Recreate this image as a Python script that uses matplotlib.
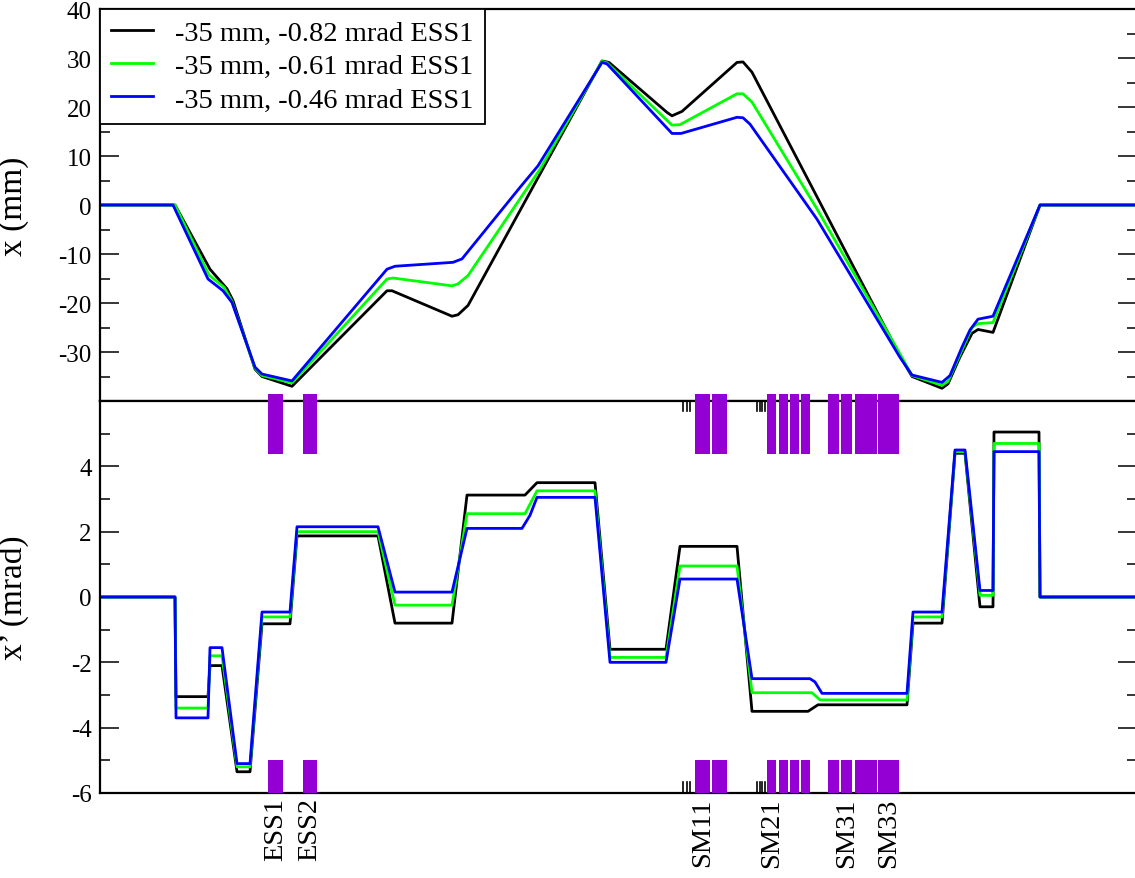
import matplotlib
matplotlib.use("Agg")
import matplotlib.pyplot as plt
from matplotlib.patches import Rectangle
from matplotlib.ticker import MultipleLocator

plt.rcParams['font.family'] = ['Liberation Serif', 'DejaVu Serif']

# Beam-line position s (m) and orbit for three ESS1 kick settings
labels = ["-35 mm, -0.82 mrad ESS1", "-35 mm, -0.61 mrad ESS1", "-35 mm, -0.46 mrad ESS1"]
colors = ["black", "#00ff00", "#0000ff"]

# --- horizontal position x (mm) ---
s_x_black = [0, 7.5, 11.0, 12.7, 13.3, 15.5, 16.2, 19.2, 28.7, 29.2, 35.2, 35.8, 36.8,
             50.2, 50.9, 56.7, 57.2, 58.2, 63.7, 64.3, 65.2, 80.0, 81.2, 84.2, 84.8,
             86.0, 87.2, 87.8, 89.3, 94.0, 103.7]
x_black = [0, 0, -13.1, -17.1, -19.5, -33.5, -35.0, -37.0, -17.5, -17.5, -22.7, -22.4, -20.5,
           29.4, 29.1, 18.9, 18.2, 19.1, 29.1, 29.2, 27.1, -30.8, -35.0, -37.4, -36.5,
           -31.0, -26.2, -25.4, -26.0, 0, 0]

s_x_green = [0, 7.5, 10.9, 12.4, 13.2, 15.5, 16.2, 19.2, 28.7, 29.3, 35.2, 35.8, 36.8,
             44.0, 50.2, 50.7, 57.2, 58.0, 63.7, 64.3, 65.2, 71.7, 80.0, 81.2, 84.2,
             84.8, 86.0, 87.2, 87.8, 89.3, 94.0, 103.7]
x_green = [0, 0, -14.3, -16.8, -19.7, -33.3, -34.8, -36.3, -15.1, -14.9, -16.5, -16.1, -14.4,
           7.3, 29.3, 29.0, 16.3, 16.4, 22.7, 22.7, 21.0, -0.8, -30.4, -34.8, -36.8,
           -36.0, -30.5, -25.0, -24.2, -24.0, 0, 0]

s_x_blue = [0, 7.3, 10.8, 12.3, 13.2, 15.5, 16.2, 19.2, 28.7, 29.5, 35.3, 36.2, 42.0,
            43.8, 50.2, 50.7, 57.2, 58.1, 63.7, 64.3, 65.0, 71.7, 80.0, 81.2, 84.2,
            85.0, 86.2, 87.0, 87.8, 89.3, 94.0, 103.7]
x_blue = [0, 0, -15.1, -17.5, -19.9, -33.1, -34.5, -35.9, -13.1, -12.5, -11.7, -11.0, 3.6,
          8.0, 29.1, 28.8, 14.6, 14.6, 17.9, 17.8, 16.5, -2.9, -31.1, -34.7, -36.2,
          -34.8, -29.0, -25.5, -23.3, -22.7, 0, 0]

# --- horizontal angle x' (mrad) ---
s_xp_black = [0, 7.5, 7.6, 10.8, 11.0, 12.2, 13.7, 15.0, 16.2, 19.0, 19.7, 27.8, 29.5,
              35.2, 36.7, 42.5, 43.7, 49.5, 51.0, 56.6, 58.0, 63.7, 65.2, 70.8, 71.8,
              80.7, 81.3, 84.2, 85.5, 86.5, 88.0, 89.3, 89.4, 93.9, 94.0, 103.7]
xp_black = [0, 0, -3.05, -3.05, -2.1, -2.1, -5.35, -5.35, -0.82, -0.82, 1.87, 1.87, -0.8,
            -0.8, 3.12, 3.12, 3.5, 3.5, -1.6, -1.6, 1.55, 1.55, -3.5, -3.5, -3.3,
            -3.3, -0.8, -0.8, 4.4, 4.4, -0.3, -0.3, 5.05, 5.05, 0, 0]

s_xp_green = [0, 7.5, 7.6, 10.8, 11.0, 12.2, 13.7, 15.0, 16.2, 19.0, 19.7, 27.8, 29.5,
              35.2, 36.7, 42.5, 43.7, 49.5, 51.0, 56.6, 58.0, 63.7, 65.2, 71.2, 72.0,
              80.7, 81.3, 84.2, 85.5, 86.5, 88.0, 89.3, 89.4, 93.9, 94.0, 103.7]
xp_green = [0, 0, -3.4, -3.4, -1.8, -1.8, -5.2, -5.2, -0.61, -0.61, 2.0, 2.0, -0.25,
            -0.25, 2.55, 2.55, 3.25, 3.25, -1.85, -1.85, 0.95, 0.95, -2.93, -2.93, -3.15,
            -3.15, -0.61, -0.61, 4.45, 4.45, 0.05, 0.05, 4.7, 4.7, 0, 0]

s_xp_blue = [0, 7.5, 7.6, 10.8, 11.0, 12.2, 13.7, 15.0, 16.2, 19.0, 19.7, 27.8, 29.5,
             35.2, 36.7, 42.2, 43.0, 43.7, 49.5, 51.0, 56.6, 58.0, 63.7, 65.2, 71.0,
             71.5, 72.2, 80.7, 81.3, 84.2, 85.5, 86.5, 88.0, 89.3, 89.4, 93.9, 94.0, 103.7]
xp_blue = [0, 0, -3.7, -3.7, -1.55, -1.55, -5.1, -5.1, -0.46, -0.46, 2.15, 2.15, 0.15,
           0.15, 2.1, 2.1, 2.5, 3.05, 3.05, -2.0, -2.0, 0.55, 0.55, -2.5, -2.5,
           -2.6, -2.95, -2.95, -0.46, -0.46, 4.5, 4.5, 0.2, 0.2, 4.45, 4.45, 0, 0]

# Magnet extents (m) and thin elements (m)
elem_start = [16.83, 20.27, 59.5, 61.17, 66.67, 67.93, 68.97, 70.1, 72.77, 74.07, 75.5, 77.77]
elem_end = [18.27, 21.7, 61.0, 62.67, 67.6, 68.83, 69.87, 71.0, 73.93, 75.23, 77.67, 79.9]
thin_elems = [58.33, 58.67, 59.0, 65.7, 65.95, 66.2, 66.45]

elem_names = ["ESS1", "ESS2", "SM11", "SM21", "SM31", "SM33"]
elem_label_pos = [17.55, 20.99, 60.25, 67.13, 74.65, 78.84]

series_x = [(s_x_black, x_black), (s_x_green, x_green), (s_x_blue, x_blue)]
series_xp = [(s_xp_black, xp_black), (s_xp_green, xp_green), (s_xp_blue, xp_blue)]

W, H = 1135, 879
fig = plt.figure(figsize=(W / 100, H / 100), dpi=100)
left = 100 / W
width = 1037 / W
ax1 = fig.add_axes([left, 477 / H, width, 392 / H])
ax2 = fig.add_axes([left, 85 / H, width, 392 / H])

for (s, v), c, lab in zip(series_x, colors, labels):
    ax1.plot(s, v, color=c, lw=2.0, label=lab)
for (s, v), c in zip(series_xp, colors):
    ax2.plot(s, v, color=c, lw=2.0)

tick_fs = 18
for ax in (ax1, ax2):
    ax.set_xlim(0, 103.7)
    for sp in ax.spines.values():
        sp.set_linewidth(1.6)
    ax.tick_params(axis='y', which='major', direction='in', length=14, width=1.1,
                   left=True, right=True, labelsize=tick_fs, pad=6)
    ax.tick_params(axis='y', which='minor', direction='in', length=7, width=1.1,
                   left=True, right=True)
    ax.tick_params(axis='x', which='both', top=False, bottom=False)

ax1.set_ylim(-40, 40)
ax1.yaxis.set_major_locator(MultipleLocator(10))
ax1.yaxis.set_minor_locator(MultipleLocator(5))
ax1.set_yticks([-40, -30, -20, -10, 0, 10, 20, 30, 40])
ax1.set_yticklabels(["", "-30", "-20", "-10", "0", "10", "20", "30", "40"])
ax1.set_xticks([])
ax1.set_ylabel("x (mm)", fontsize=24)
ax1.yaxis.set_label_coords(-0.068, 0.5)

ax2.set_ylim(-6, 6)
ax2.yaxis.set_minor_locator(MultipleLocator(1))
ax2.set_yticks([-6, -4, -2, 0, 2, 4, 6])
ax2.set_yticklabels(["-6", "-4", "-2", "0", "2", "4", ""])
ax2.set_ylabel("x\u2019 (mrad)", fontsize=24)
ax2.yaxis.set_label_coords(-0.068, 0.5)

# element labels below the lattice
ax2.set_xticks(elem_label_pos)
ax2.set_xticklabels(elem_names, rotation=90, fontsize=20.5, va='top')
ax2.tick_params(axis='x', length=0, pad=3)

# magnets: bars across the panel boundary and along the bottom edge
purple = "#9400d3"
for a, b in zip(elem_start, elem_end):
    ax2.add_patch(Rectangle((a, 4.37), b - a, 1.84, facecolor=purple, edgecolor='none',
                            clip_on=False, zorder=5))
    ax2.add_patch(Rectangle((a, -6.0), b - a, 1.0, facecolor=purple, edgecolor='none',
                            clip_on=False, zorder=5))
for p in thin_elems:
    ax2.plot([p, p], [6.0, 5.7], color='black', lw=1.2, clip_on=False, zorder=4)
    ax2.plot([p, p], [-6.0, -5.67], color='black', lw=1.2, clip_on=False, zorder=4)

leg = ax1.legend(loc='upper left', bbox_to_anchor=(0, 1), borderaxespad=0,
                 fontsize=20.5, frameon=True, fancybox=False, framealpha=1,
                 edgecolor='black', handlelength=1.45, handletextpad=0.8,
                 labelspacing=0.25, borderpad=0.4)
leg.get_frame().set_linewidth(1.3)
leg.set_zorder(10)

fig.savefig("out.png", dpi=100)
